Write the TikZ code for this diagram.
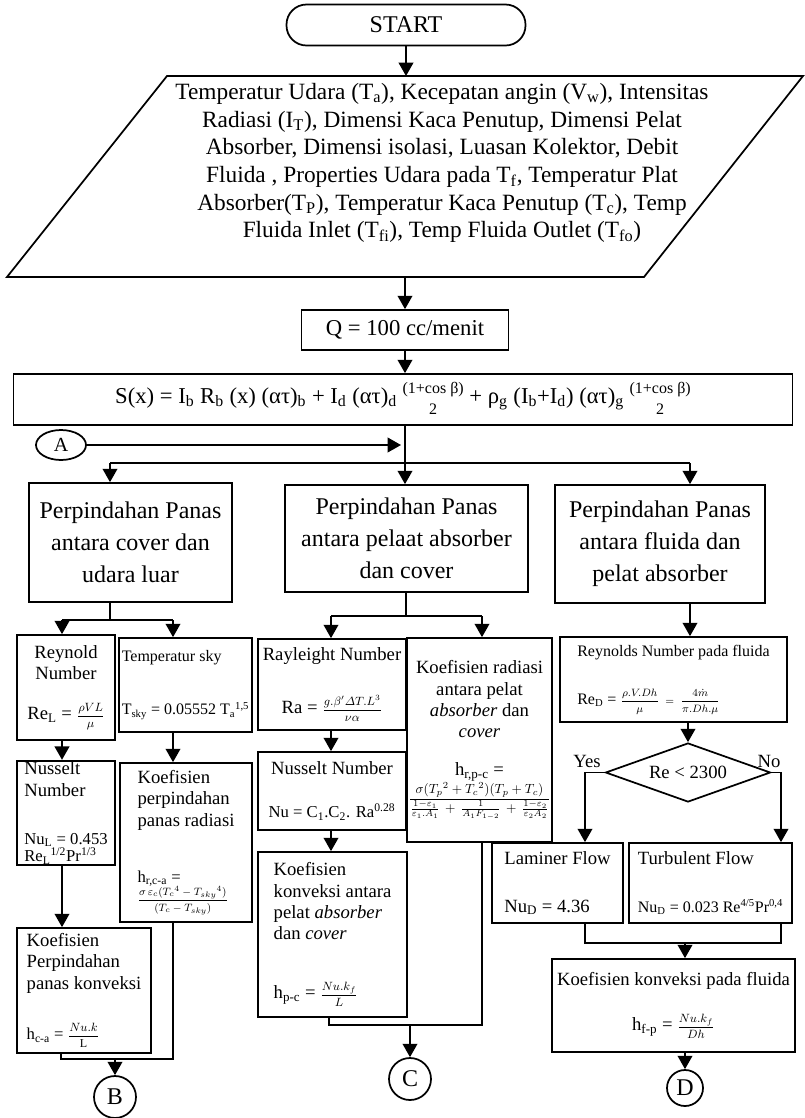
\documentclass[tikz,border=0pt]{standalone}
\usepackage{fontspec}
\setmainfont{Liberation Serif}
\usepackage{amsmath}
\usetikzlibrary{arrows.meta, shapes.geometric}

\newcommand{\eqsize}{\fontsize{9pt}{10pt}\selectfont}
\newcommand{\fmsize}{\fontsize{12.5pt}{14pt}\selectfont}
\newcommand{\cosfrac}{{\def\arraystretch{0.8}\fontsize{12pt}{20pt}\selectfont\begin{tabular}{@{}c@{}}(1+cos β)\\2\end{tabular}}}

\begin{document}
\begin{tikzpicture}[x=0.75pt, y=-0.75pt, line width=1.3pt]
    \tikzset{%
        box/.style args={#1/#2}{draw, rectangle, minimum width=#1*0.75pt, minimum height=#2*0.75pt, inner sep=1pt},
        term/.style args={#1/#2}{box=#1/#2, rounded corners=15pt},
        conn/.style={draw, circle, minimum size=#1*0.75pt, inner sep=0pt, font=\fontsize{18pt}{18pt}\selectfont},
        headtxt/.style={align=center, font=\fontsize{18pt}{24pt}\selectfont},
        bodytxt/.style={font=\fontsize{14pt}{16pt}\selectfont},
        smalltxt/.style={font=\fontsize{12pt}{14pt}\selectfont},
        arr/.style={-{Triangle[width=11pt, length=10pt]}},
    }
    \useasboundingbox (0,0) rectangle (804,1118);

    % start, input, debit, radiasi
    \node (start) at (406,25) [term=239/41, font=\fontsize{18pt}{18pt}\selectfont] {START};

    \coordinate (pTL) at (167,76);
    \coordinate (pTR) at (803,76);
    \coordinate (pBR) at (644,277);
    \coordinate (pBL) at (7,277);
    \draw (pTL) -- (pTR) -- (pBR) -- (pBL) -- cycle;
    \node (input) at (442,163) [align=center, font=\fontsize{17.5pt}{20.8pt}\selectfont] {%
        Temperatur Udara (T\textsubscript{a}), Kecepatan angin (V\textsubscript{w}), Intensitas\\
        Radiasi (I\textsubscript{T}), Dimensi Kaca Penutup,  Dimensi Pelat\\
        Absorber, Dimensi isolasi, Luasan Kolektor, Debit\\
        Fluida , Properties Udara pada T\textsubscript{f}, Temperatur Plat\\
        Absorber(T\textsubscript{P}), Temperatur Kaca Penutup (T\textsubscript{c}), Temp\\
        Fluida Inlet (T\textsubscript{fi}), Temp Fluida Outlet (T\textsubscript{fo})};

    \node (Q) at (405,330) [box=207/40, font=\fontsize{17pt}{20pt}\selectfont] {Q = 100 cc/menit};
    \node (S) at (403,399.5) [box=779/51, font=\fontsize{17pt}{20pt}\selectfont] {S(x) = I\textsubscript{b} R\textsubscript{b} (x) (ατ)\textsubscript{b} + I\textsubscript{d} (ατ)\textsubscript{d} \cosfrac{} + ρ\textsubscript{g} (I\textsubscript{b}+I\textsubscript{d}) (ατ)\textsubscript{g} \cosfrac};
    \node (A) at (61,445) [draw, ellipse, minimum width=50*0.75pt, minimum height=30*0.75pt, inner sep=0pt, font=\fontsize{15pt}{15pt}\selectfont] {A};

    % three heat transfer paths
    \node (L1) at (130.5,542.5) [box=203/119, headtxt] {Perpindahan Panas\\antara cover dan\\udara luar};
    \node (M1) at (406.5,538.5) [box=243/107, headtxt] {Perpindahan Panas\\antara pelaat absorber\\dan cover};
    \node (R1) at (660,544) [box=210/118, headtxt] {Perpindahan Panas\\antara fluida dan\\pelat absorber};

    % cover - udara luar
    \node (L2a) at (66,687.5) [box=98/105, bodytxt, align=center] {Reynold\\Number\\[14pt]Re\textsubscript{L} = {\eqsize$\dfrac{\rho VL}{\mu}$}};
    \node (L2b) at (185.5,685) [box=133/94, smalltxt, align=left] {Temperatur sky\\[26pt]T\textsubscript{sky} = 0.05552 T\textsubscript{a}\textsuperscript{1,5}};
    \node (L3a) at (66,813) [box=98/100, bodytxt, align=left] {Nusselt\\Number\\[20pt]{\fmsize Nu\textsubscript{L} = 0.453}\\[-3pt]{\fmsize Re\textsubscript{L}\textsuperscript{1/2}Pr\textsuperscript{1/3}}};
    \node (L4a) at (84,990.5) [box=134/125, bodytxt, align=left] {Koefisien\\Perpindahan\\panas konveksi\\[22pt]{\fmsize h\textsubscript{c-a} = }{\eqsize$\dfrac{Nu.k}{\mathrm{L}}$}};
    \node (L3b) at (186,842.5) [box=132/159, bodytxt, align=left] {Koefisien\\perpindahan\\panas radiasi\\[26pt]{\fmsize h\textsubscript{r,c-a} =}\\{\fontsize{8pt}{9pt}\selectfont$\dfrac{\sigma\,\varepsilon_c(T_c{}^4-T_{sky}{}^4)}{(T_c-T_{sky})}$}};
    \node (B) at (115,1097) [conn=42] {B};

    % pelat absorber - cover
    \node (M2a) at (332,684.5) [box=148/91, bodytxt, align=center] {Rayleight Number\\[22pt]Ra = {\eqsize$\dfrac{g.\beta'\varDelta T.L^3}{\nu\alpha}$}};
    \node (M2b) at (479.5,740) [box=139/204, bodytxt, align=center] {Koefisien radiasi\\antara pelat\\\textit{absorber} dan\\\textit{cover}\\[12pt]h\textsubscript{r,p-c} =\\{\fontsize{10pt}{11pt}\selectfont$\dfrac{\sigma(T_p{}^2+T_c{}^2)(T_p+T_c)}{\frac{1-\varepsilon_1}{\varepsilon_1.A_1}\,+\,\frac{1}{A_1F_{1-2}}\,+\,\frac{1-\varepsilon_2}{\varepsilon_2A_2}}$}};
    \node (M3a) at (332,791) [box=148/78, bodytxt, align=center] {Nusselt Number\\[16pt]{\fmsize Nu = C\textsubscript{1}.C\textsubscript{2}. Ra\textsuperscript{0.28}}};
    \node (M4a) at (332.5,934.5) [box=149/165, bodytxt, align=left] {Koefisien\\konveksi antara\\pelat \textit{absorber}\\dan \textit{cover}\\[28pt]h\textsubscript{p-c} = {\eqsize$\dfrac{Nu.k_f}{L}$}};
    \node (C) at (410,1079) [conn=42] {C};

    % fluida - pelat absorber
    \node (R2) at (673.5,679.5) [box=227/85, smalltxt, align=left] {Reynolds Number pada fluida\\[22pt]Re\textsubscript{D} = {\fontsize{8pt}{9pt}\selectfont$\dfrac{\rho.V.Dh}{\mu}\;=\;\dfrac{4\dot{m}}{\pi.Dh.\mu}$}};
    \node (dec) at (688,772.5) [draw, diamond, aspect=2.8, minimum width=165*0.75pt, minimum height=59*0.75pt, inner sep=1pt, bodytxt] {Re < 2300};
    \node (yes) at (587,761) [bodytxt] {Yes};
    \node (no) at (769,761) [bodytxt] {No};
    \node (Lam) at (557.5,883) [box=131/80, bodytxt, align=left] {Laminer Flow\\[20pt]Nu\textsubscript{D} = 4.36};
    \node (Tur) at (710.5,883) [box=163/80, bodytxt, align=left] {Turbulent Flow\\[20pt]{\fontsize{12pt}{14pt}\selectfont Nu\textsubscript{D} = 0.023 Re\textsuperscript{4/5}Pr\textsuperscript{0,4}}};
    \node (KF) at (673.5,1005.5) [box=243/93, bodytxt, align=center] {Koefisien konveksi pada fluida\\[18pt]h\textsubscript{f-p} = {\eqsize$\dfrac{Nu.k_f}{Dh}$}};
    \node (D) at (685,1088) [conn=36] {D};

    % junctions
    \coordinate (trunk) at (405,463);
    \coordinate (jL) at (110,463);
    \coordinate (jR) at (690,463);
    \coordinate (jL1) at (110,620);
    \coordinate (jLa) at (62,620);
    \coordinate (jLb) at (173,620);
    \coordinate (jLc) at (61,1059);
    \coordinate (jLd) at (173,1059);
    \coordinate (jB) at (115,1059);
    \coordinate (jM1) at (406,616);
    \coordinate (jMa) at (331,616);
    \coordinate (jMb) at (482,616);
    \coordinate (jMc) at (329,1025);
    \coordinate (jMd) at (482,1025);
    \coordinate (jC) at (410,1025);
    \coordinate (jLam) at (585,772);
    \coordinate (jTur) at (781,772);
    \coordinate (jKa) at (585,943);
    \coordinate (jKb) at (781,943);
    \coordinate (jK) at (685,943);

    \draw[arr] (start) -- (start |- pTL);
    \draw[arr] (Q |- pBL) -- (Q);
    \draw[arr] (Q) -- (Q |- S.north);
    \draw (S.south -| trunk) -- (trunk);
    \draw[arr] (trunk) -- (trunk |- M1.north);
    \draw (jL) -- (jR);
    \draw[arr] (jL) -- (jL |- L1.north);
    \draw[arr] (jR) -- (jR |- R1.north);
    \draw[arr, shorten >=3pt] (A) -- (A -| trunk);

    \draw (L1.south -| jL1) -- (jL1);
    \draw (jLa) -- (jLb);
    \draw[arr] (jLa) -- (jLa |- L2a.north);
    \draw[arr] (jLb) -- (jLb |- L2b.north);
    \draw[arr] (L2a.south -| jLa) -- (jLa |- L3a.north);
    \draw[arr] (L2b.south -| jLb) -- (jLb |- L3b.north);
    \draw[arr] (L3a.south -| jLa) -- (jLa |- L4a.north);
    \draw (L4a.south -| jLc) -- (jLc) -- (jLd) -- (L3b.south -| jLd);
    \draw[arr] (jB) -- (B);

    \draw (M1.south -| jM1) -- (jM1);
    \draw (jMa) -- (jMb);
    \draw[arr] (jMa) -- (jMa |- M2a.north);
    \draw[arr] (jMb) -- (jMb |- M2b.north);
    \draw[arr] (M2a.south -| jMa) -- (jMa |- M3a.north);
    \draw[arr] (M3a.south -| jMa) -- (jMa |- M4a.north);
    \draw (M4a.south -| jMc) -- (jMc) -- (jMd) -- (M2b.south -| jMd);
    \draw[arr] (jC) -- (C);

    \draw[arr] (R1.south -| jR) -- (jR |- R2.north);
    \draw[arr] (R2.south -| dec) -- (dec);
    \draw[arr] (dec.west) -| (jLam |- Lam.north);
    \draw[arr] (dec.east) -| (jTur |- Tur.north);
    \draw (Lam.south -| jKa) -- (jKa) -- (jKb) -- (Tur.south -| jKb);
    \draw[arr] (jK) -- (jK |- KF.north);
    \draw[arr] (KF.south -| D) -- (D);
\end{tikzpicture}
\end{document}
